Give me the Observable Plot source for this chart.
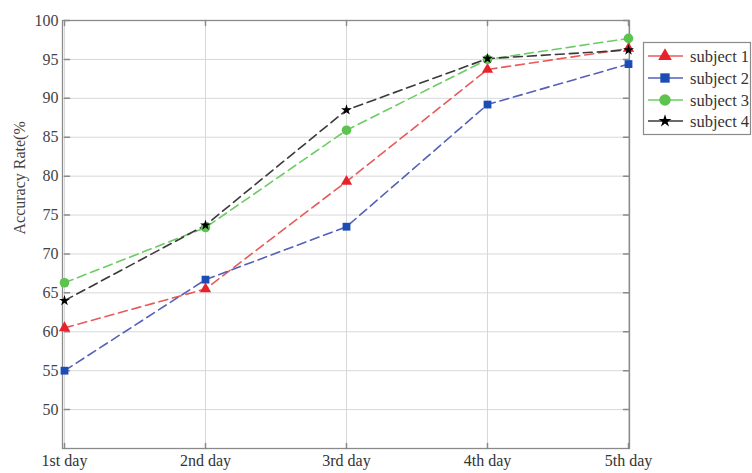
<!DOCTYPE html>
<html><head><meta charset="utf-8">
<script src="https://cdn.jsdelivr.net/npm/d3@7"></script>
<script src="https://cdn.jsdelivr.net/npm/@observablehq/plot@0.6"></script>
<style>body{margin:0;background:#fff} #chart{width:752px;height:473px}</style>
</head><body><div id="chart"></div>
<script>
const days = ["1st day", "2nd day", "3rd day", "4th day", "5th day"];
const subjects = ["subject 1", "subject 2", "subject 3", "subject 4"];
const subject1 = [60.5, 65.5, 79.3, 93.7, 96.4];
const subject2 = [55.0, 66.7, 73.5, 89.2, 94.4];
const subject3 = [66.3, 73.4, 85.9, 95.0, 97.7];
const subject4 = [64.0, 73.7, 88.5, 95.1, 96.2];
const yTicks = [50, 55, 60, 65, 70, 75, 80, 85, 90, 95, 100];
const yLabel = "Accuracy Rate(%";

const series = [subject1, subject2, subject3, subject4];
const lineColors = ["#e85a5a", "#5560b8", "#6ccc64", "#3a3a3a"];
const markColors = ["#e8222a", "#1c4db5", "#5cc34e", "#000000"];
const symbols = ["triangle", "square", "circle", "star"];
const radii = [4.2, 4.4, 4.8, 3.4];

const tickShape = {draw(context, l) { context.moveTo(0, 0); context.lineTo(0, -l); }};
const font = "Liberation Serif, Times New Roman, serif";

const marks = [
  Plot.gridX(days, {stroke: "#d8d8d8", strokeOpacity: 1, strokeWidth: 1}),
  Plot.gridY(yTicks, {stroke: "#d8d8d8", strokeOpacity: 1, strokeWidth: 1}),
  Plot.frame({stroke: "#8a8a8a", strokeWidth: 1.3}),
  Plot.vector(yTicks, {x: () => days[0], y: d => d, length: 5, rotate: 90, anchor: "start", shape: tickShape, stroke: "#8a8a8a"}),
  Plot.vector(yTicks, {x: () => days[4], y: d => d, length: 5, rotate: -90, anchor: "start", shape: tickShape, stroke: "#8a8a8a"}),
  Plot.vector(days, {x: d => d, y: () => 45, length: 5, rotate: 0, anchor: "start", shape: tickShape, stroke: "#8a8a8a"}),
  Plot.vector(days, {x: d => d, y: () => 100, length: 5, rotate: 180, anchor: "start", shape: tickShape, stroke: "#8a8a8a"}),
  Plot.axisY(yTicks, {tickSize: 0, tickPadding: 4, fontSize: 16, fill: "#444", label: null}),
  Plot.axisX(days, {tickSize: 0, tickPadding: 6, fontSize: 16, fill: "#333", label: null}),
  Plot.text([yLabel], {frameAnchor: "left", dx: -43, rotate: -90, text: d => d, fontSize: 16, fill: "#444"})
];
series.forEach((vals, i) => {
  const data = days.map((d, j) => ({day: d, value: vals[j]}));
  marks.push(Plot.line(data, {x: "day", y: "value", stroke: lineColors[i], strokeWidth: 1.6, strokeDasharray: "9,5"}));
});
series.forEach((vals, i) => {
  const data = days.map((d, j) => ({day: d, value: vals[j]}));
  marks.push(Plot.dot(data, {x: "day", y: "value", symbol: symbols[i], r: radii[i], fill: markColors[i], stroke: "none"}));
});

const chart = Plot.plot({
  width: 752, height: 473,
  marginLeft: 62, marginRight: 123, marginTop: 20, marginBottom: 25,
  style: {fontFamily: font, background: "#fff"},
  x: {type: "point", domain: days, padding: 0},
  y: {domain: [45, 100]},
  marks
});
document.getElementById("chart").appendChild(chart);

// legend
const svg = d3.select(chart);
const g = svg.append("g").attr("font-family", font).attr("text-anchor", "start");
g.append("rect").attr("x", 643.5).attr("y", 42.5).attr("width", 107).attr("height", 92)
  .attr("fill", "#fff").attr("stroke", "#8a8a8a").attr("stroke-width", 1.2);
const rowY = [56, 78, 100, 121];
subjects.forEach((s, i) => {
  const y = rowY[i];
  g.append("line").attr("x1", 648).attr("x2", 683).attr("y1", y).attr("y2", y)
    .attr("stroke", lineColors[i]).attr("stroke-width", 1.5);
  const size = Math.PI * (radii[i] * 1.2) ** 2;
  const sym = {triangle: d3.symbolTriangle, square: d3.symbolSquare, circle: d3.symbolCircle, star: d3.symbolStar}[symbols[i]];
  g.append("path").attr("d", d3.symbol(sym, size)()).attr("transform", `translate(665,${y})`).attr("fill", markColors[i]);
  g.append("text").attr("x", 690).attr("y", y).attr("dy", "0.35em").attr("text-anchor", "start")
    .attr("font-size", 16.5).attr("fill", "#333").text(s);
});
</script>
</body></html>
